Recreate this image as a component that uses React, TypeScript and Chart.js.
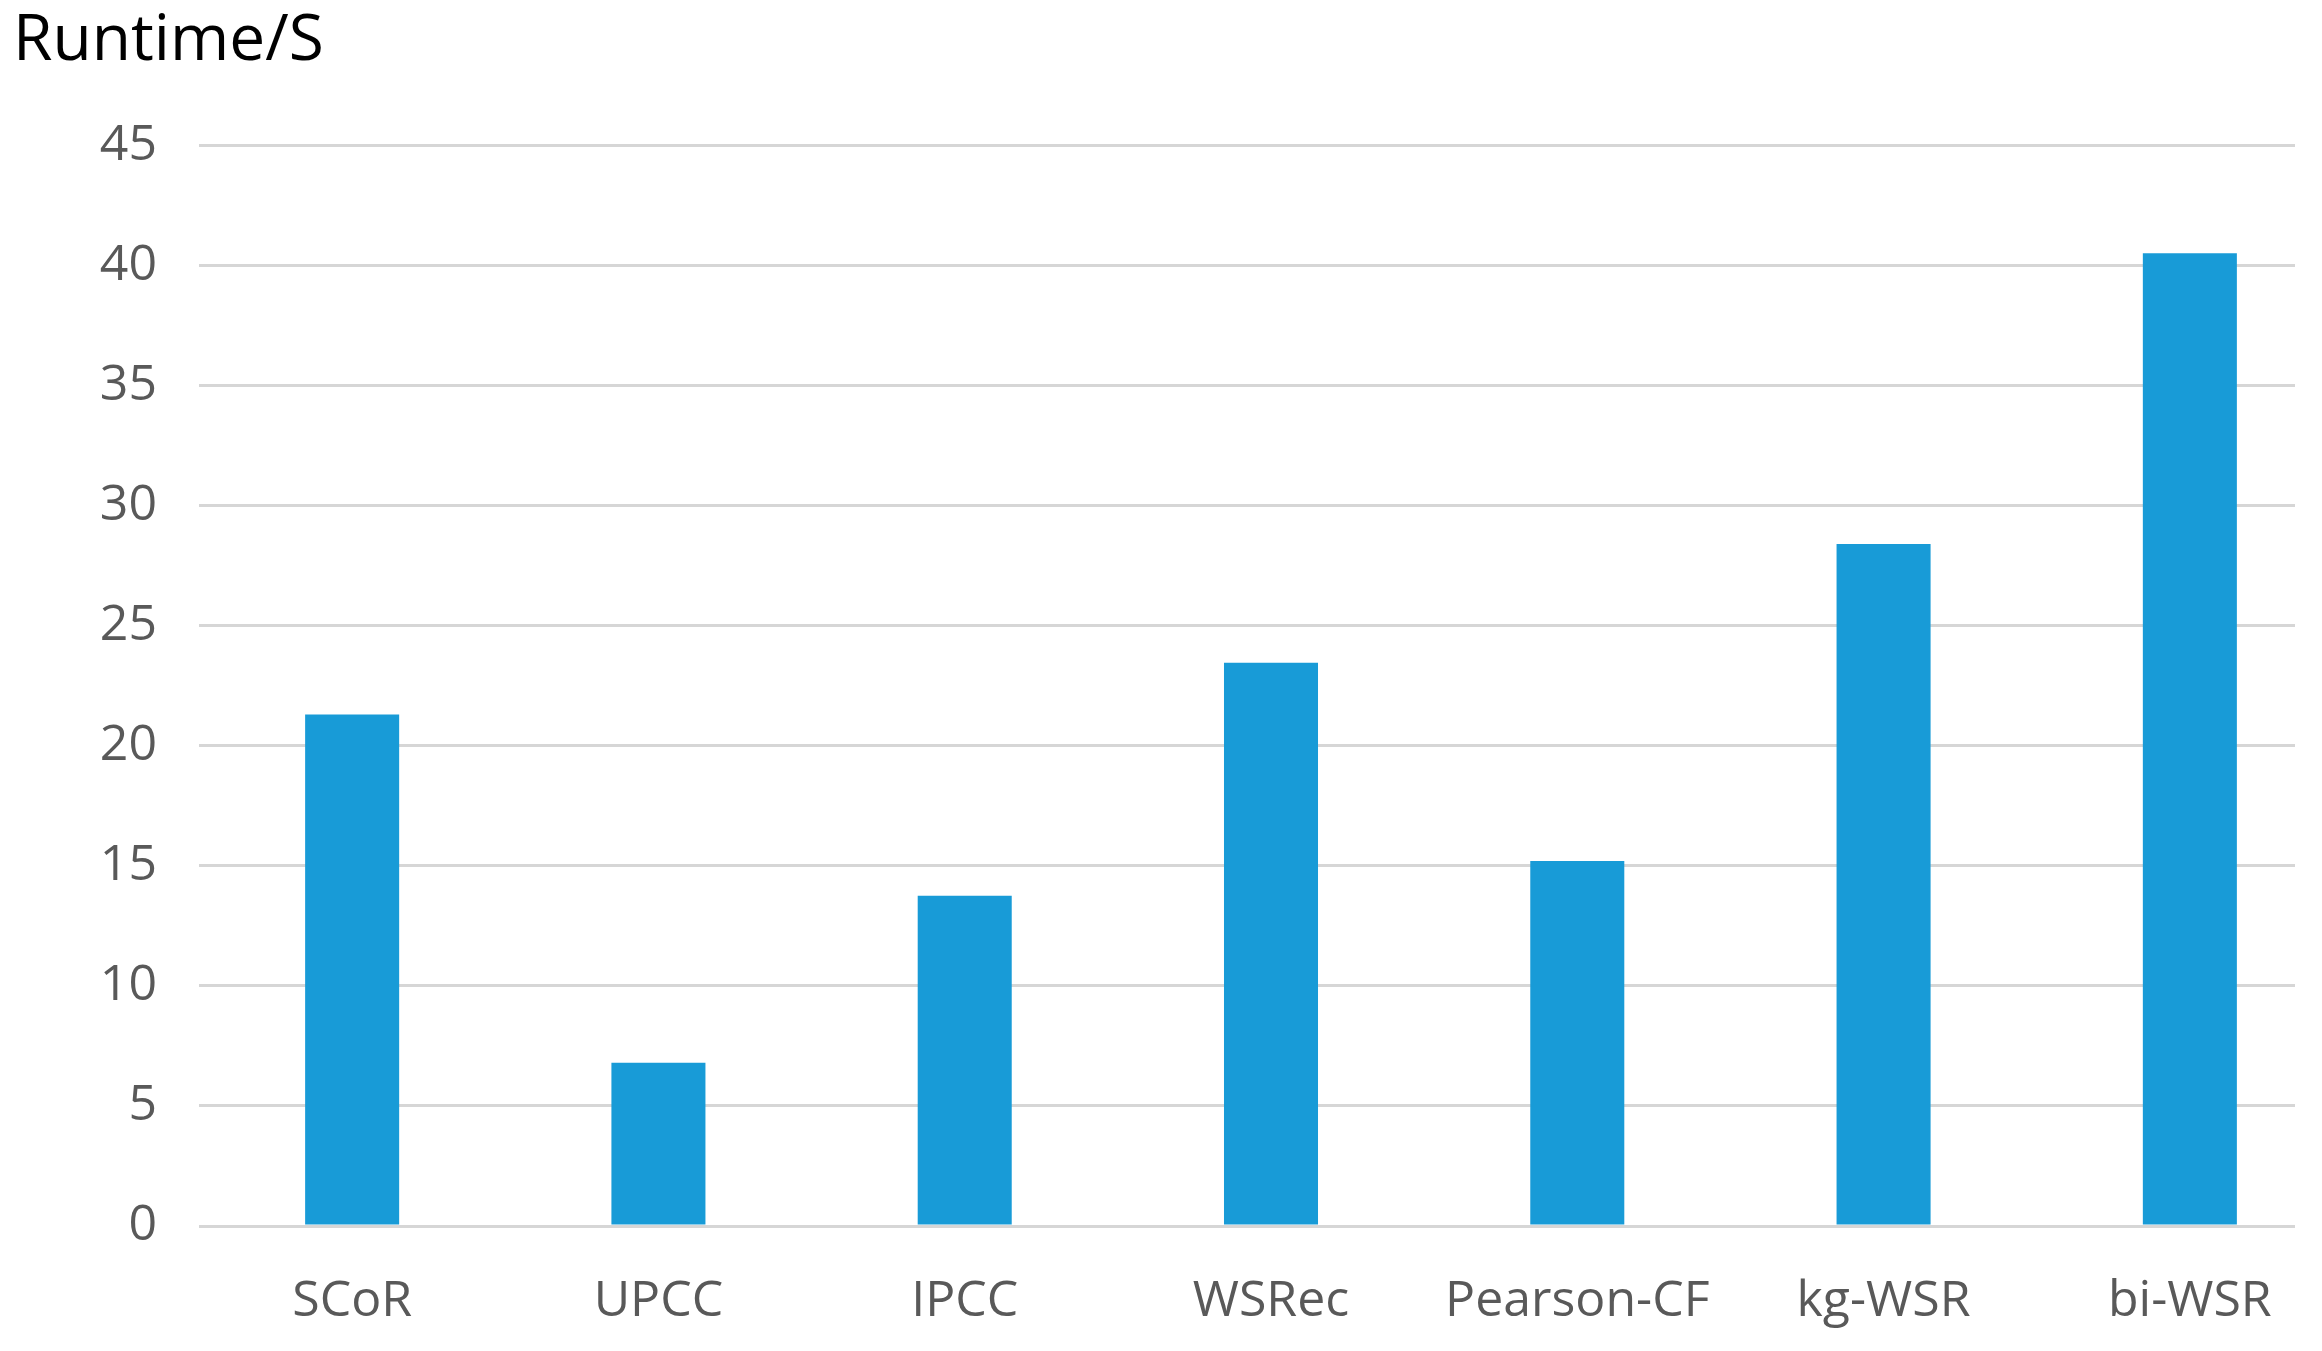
import React, { useEffect, useRef } from "react";
import { Chart, registerables } from "chart.js";

Chart.register(...registerables);

const categories = ["SCoR", "UPCC", "IPCC", "WSRec", "Pearson-CF", "kg-WSR", "bi-WSR"];
const runtimeValues = [21.3, 6.8, 13.75, 23.45, 15.2, 28.4, 40.5];
const yTickMin = 0;
const yTickMax = 45;
const yTickStep = 5;
const titleText = "Runtime/S";

const CANVAS_W = 2340;
const CANVAS_H = 1323;
const GRID_RIGHT = 2287;

const clipGridPlugin = {
  id: "clipGrid",
  beforeDraw(chart: any) {
    const ctx = chart.ctx;
    ctx.save();
    ctx.beginPath();
    ctx.rect(0, 0, GRID_RIGHT, chart.height);
    ctx.clip();
  },
  beforeDatasetsDraw(chart: any) {
    chart.ctx.restore();
  },
};

export default function App() {
  const ref = useRef<HTMLCanvasElement | null>(null);

  useEffect(() => {
    if (!ref.current) return;
    const chart = new Chart(ref.current, {
      type: "bar",
      data: {
        labels: categories,
        datasets: [
          {
            data: runtimeValues,
            backgroundColor: "#189bd7",
            borderWidth: 0,
            categoryPercentage: 1,
            barPercentage: 0.307,
          },
        ],
      },
      plugins: [clipGridPlugin],
      options: {
        animation: false,
        responsive: true,
        maintainAspectRatio: false,
        layout: { padding: { left: 5, right: 5, top: 0, bottom: 0 } },
        plugins: {
          legend: { display: false },
          tooltip: { enabled: false },
          title: {
            display: true,
            text: titleText,
            align: "start",
            color: "#000000",
            font: { family: "'Open Sans'", size: 64, weight: "normal", lineHeight: 1.2 },
            padding: { top: -5, bottom: 65.5 },
          },
        },
        scales: {
          x: {
            grid: { display: false, drawTicks: false },
            border: { display: false },
            ticks: {
              color: "#595959",
              font: { family: "'Open Sans'", size: 50 },
              padding: 46,
              maxRotation: 0,
              autoSkip: false,
            },
            afterFit(scale: any) {
              scale.height = 105;
            },
          },
          y: {
            min: yTickMin,
            max: yTickMax,
            grid: { color: "#d6d6d6", lineWidth: 3, drawTicks: false },
            border: { display: false },
            ticks: {
              stepSize: yTickStep,
              color: "#595959",
              font: { family: "'Open Sans'", size: 50 },
              padding: 42,
            },
            afterFit(scale: any) {
              scale.width = 186;
            },
          },
        },
      },
    });
    return () => chart.destroy();
  }, []);

  return (
    <div style={{ width: "100%", overflow: "hidden" }}>
      <div style={{ position: "relative", width: CANVAS_W, height: CANVAS_H }}>
        <canvas ref={ref} />
      </div>
    </div>
  );
}
